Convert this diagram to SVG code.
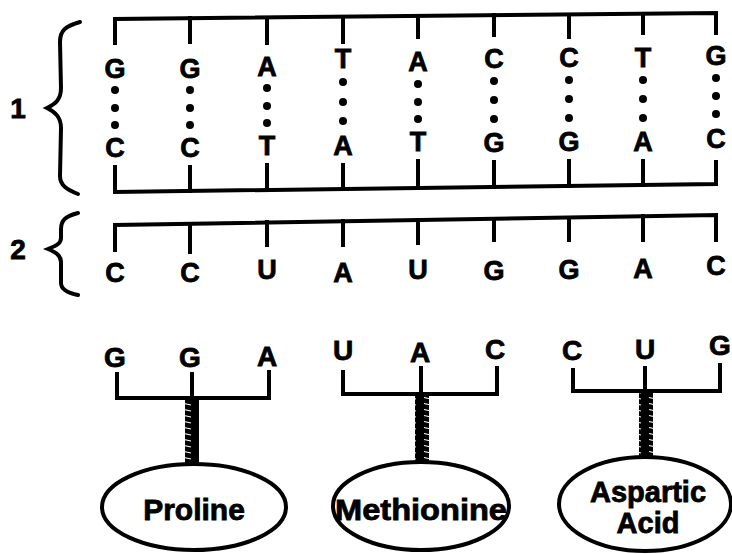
<svg xmlns="http://www.w3.org/2000/svg" width="732" height="554" viewBox="0 0 732 554">
<defs>
<style>
.t{font-family:"Liberation Sans",Arial,sans-serif;font-weight:bold;fill:#000;text-anchor:middle;stroke:#000;stroke-width:0.8}
.b{font-size:27px}
.r{font-size:28px}
.aa{font-size:30px}
.num{font-size:28px}
.ln{stroke:#000;stroke-width:4;fill:none;stroke-linecap:square;stroke-linejoin:miter}
.br{stroke:#000;stroke-width:4;fill:none;stroke-linecap:round}
.el{stroke:#000;stroke-width:4;fill:#fff}
.d{fill:#000}
.coil{fill:url(#coilp)}
</style>
<pattern id="coilp" patternUnits="userSpaceOnUse" width="15" height="6">
<rect width="15" height="6" fill="#000"/>
<path d="M4,1.5 L11,3" stroke="#fff" stroke-width="1.2"/>
</pattern>
</defs>
<rect width="732" height="554" fill="#fff"/>

<g id="labels">
<text class="t num" x="18" y="118">1</text>
<text class="t num" x="18" y="259">2</text>
<path class="br" d="M80,22 C66,26 60,30 60,42 L61,88 C61,100 55,104 47,108 C55,112 61,117 61,128 L60,176 C60,186 68,190 78,194"/>
<path class="br" d="M78,213 C66,216 61,220 61,229 L61,238 C61,244 55,246 48,249 C55,252 61,255 61,262 L61,283 C61,290 68,293 78,295"/>
</g>

<g id="connectors">
<path class="ln" d="M115,43 L115,19 L716,13 L716,33"/>
<path class="ln" d="M190,18 V42 M267,18 V43 M343,17 V42 M418,16 V37 M494,15 V35 M569,15 V37 M643,14 V33"/>
<path class="ln" d="M115,167 L115,192 L716,184 L716,162"/>
<path class="ln" d="M190,191 V167 M267,190 V165 M343,189 V165 M418,188 V161 M494,187 V162 M569,186 V161 M643,185 V161"/>
<path class="ln" d="M115,250 L115,225 L716,215 L716,240"/>
<path class="ln" d="M190,224 V252 M267,222 V245 M343,221 V245 M418,220 V243 M494,219 V240 M569,218 V240 M643,216 V240"/>
<path class="ln" d="M117,374 V398 H269 V372 M192,374 V398"/>
<rect class="coil" x="185" y="400" width="14" height="65"/>
<path class="ln" d="M343,372 V394 H497 V368 M421,368 V394"/>
<rect class="coil" x="415" y="396" width="14" height="66"/>
<path class="ln" d="M573,370 V391 H720 V365 M645,368 V391"/>
<rect class="coil" x="639" y="393" width="14" height="64"/>
</g>

<g id="dna">
<g id="col1"><text class="t b" x="115" y="78">G</text><circle class="d" cx="115" cy="90" r="4"/><circle class="d" cx="115" cy="108" r="4"/><circle class="d" cx="115" cy="125" r="4"/><text class="t b" x="115" y="157">C</text></g>
<g id="col2"><text class="t b" x="190" y="78">G</text><circle class="d" cx="190" cy="90" r="4"/><circle class="d" cx="190" cy="108" r="4"/><circle class="d" cx="190" cy="125" r="4"/><text class="t b" x="190" y="157">C</text></g>
<g id="col3"><text class="t b" x="267" y="76">A</text><circle class="d" cx="267" cy="88" r="4"/><circle class="d" cx="267" cy="106" r="4"/><circle class="d" cx="267" cy="123" r="4"/><text class="t b" x="267" y="155">T</text></g>
<g id="col4"><text class="t b" x="343" y="68">T</text><circle class="d" cx="343" cy="82" r="4"/><circle class="d" cx="343" cy="102" r="4"/><circle class="d" cx="343" cy="121" r="4"/><text class="t b" x="343" y="155">A</text></g>
<g id="col5"><text class="t b" x="418" y="71">A</text><circle class="d" cx="418" cy="84" r="4"/><circle class="d" cx="418" cy="102" r="4"/><circle class="d" cx="418" cy="119" r="4"/><text class="t b" x="418" y="151">T</text></g>
<g id="col6"><text class="t b" x="494" y="68">C</text><circle class="d" cx="494" cy="81" r="4"/><circle class="d" cx="494" cy="100" r="4"/><circle class="d" cx="494" cy="119" r="4"/><text class="t b" x="494" y="152">G</text></g>
<g id="col7"><text class="t b" x="569" y="67">C</text><circle class="d" cx="569" cy="80" r="4"/><circle class="d" cx="569" cy="99" r="4"/><circle class="d" cx="569" cy="118" r="4"/><text class="t b" x="569" y="151">G</text></g>
<g id="col8"><text class="t b" x="643" y="67">T</text><circle class="d" cx="643" cy="80" r="4"/><circle class="d" cx="643" cy="99" r="4"/><circle class="d" cx="643" cy="118" r="4"/><text class="t b" x="643" y="151">A</text></g>
<g id="col9"><text class="t b" x="716" y="65">G</text><circle class="d" cx="716" cy="78" r="4"/><circle class="d" cx="716" cy="96" r="4"/><circle class="d" cx="716" cy="114" r="4"/><text class="t b" x="716" y="148">C</text></g>
</g>

<g id="mrna">
<text class="t b" x="115" y="282">C</text>
<text class="t b" x="190" y="282">C</text>
<text class="t b" x="267" y="279">U</text>
<text class="t b" x="343" y="282">A</text>
<text class="t b" x="418" y="279">U</text>
<text class="t b" x="494" y="280">G</text>
<text class="t b" x="569" y="279">G</text>
<text class="t b" x="643" y="278">A</text>
<text class="t b" x="716" y="275">C</text>
</g>

<g id="trna1">
<text class="t r" x="115" y="367">G</text>
<text class="t r" x="190" y="367">G</text>
<text class="t r" x="267" y="366">A</text>
</g>
<g id="trna2">
<text class="t r" x="343" y="360">U</text>
<text class="t r" x="420" y="362">A</text>
<text class="t r" x="495" y="359">C</text>
</g>
<g id="trna3">
<text class="t r" x="572" y="360">C</text>
<text class="t r" x="645" y="359">U</text>
<text class="t r" x="720" y="355">G</text>
</g>

<g id="proline">
<ellipse class="el" cx="194" cy="507" rx="92" ry="43"/>
<text class="t aa" x="194" y="520">Proline</text>
</g>
<g id="methionine">
<ellipse class="el" cx="421" cy="506" rx="88" ry="44"/>
<text class="t aa" x="421" y="520" textLength="172" lengthAdjust="spacingAndGlyphs">Methionine</text>
</g>
<g id="aspartic">
<ellipse class="el" cx="645" cy="504" rx="86" ry="47"/>
<text class="t" style="font-size:29px" x="648" y="502">Aspartic</text>
<text class="t" style="font-size:29px" x="648" y="533">Acid</text>
</g>
</svg>
